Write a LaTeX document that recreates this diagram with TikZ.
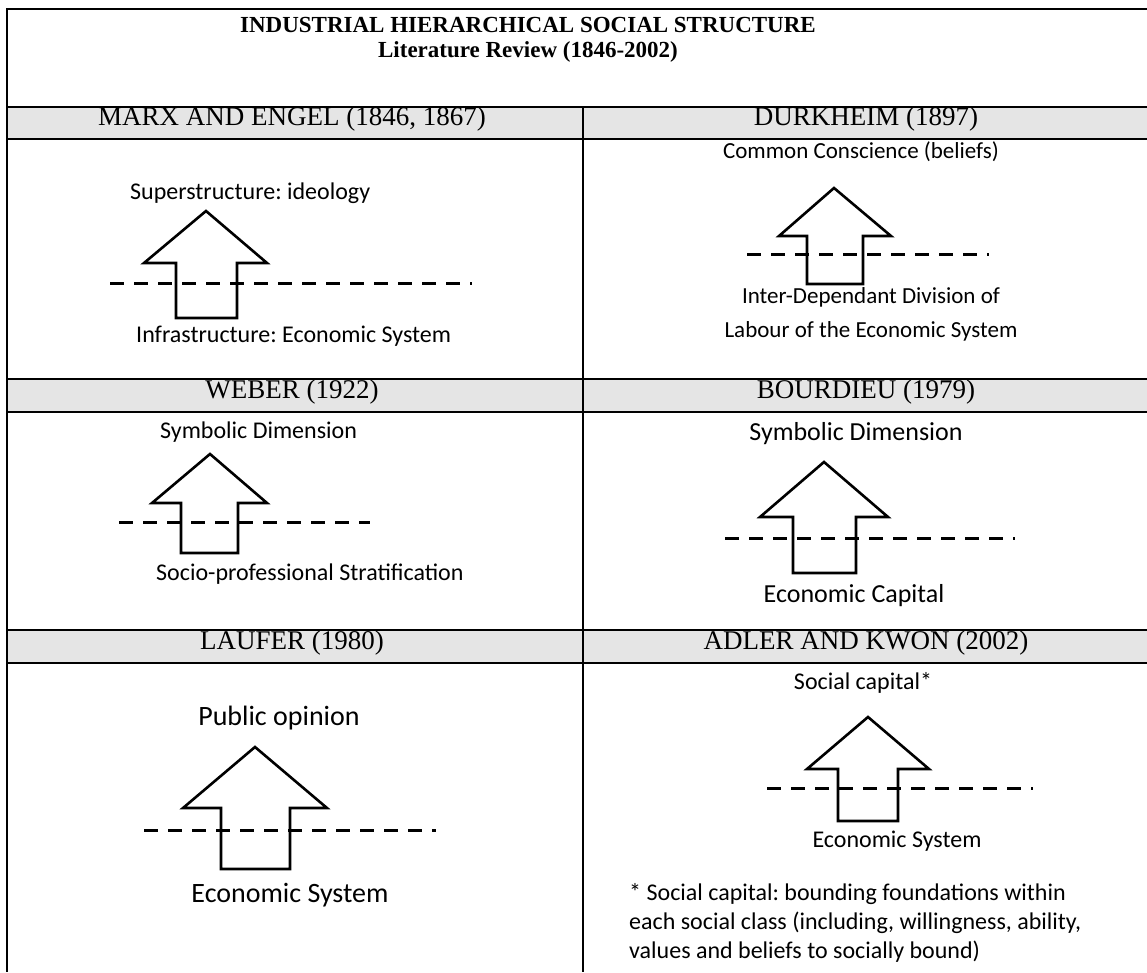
\documentclass[tikz,border=0pt]{standalone}
\usepackage{fontspec}
\setmainfont{Liberation Serif}
\newfontfamily\bodyfont{Carlito}
\frenchspacing
\tikzset{
  frame/.style={line width=2.6pt,black},
  band/.style={fill=black!10},
  hdr/.style={inner sep=0pt,anchor=mid,font=\fontsize{27}{30}\selectfont},
  lbl/.style={inner sep=0pt,anchor=mid,font=\bodyfont\fontsize{24}{29}\selectfont},
  lblw/.style={lbl,anchor=mid west},
  arrowline/.style={line width=2.6pt,miter limit=10,line join=miter},
  dashline/.style={line width=3pt,dash pattern=on 14pt off 10pt}
}
\begin{document}
\begin{tikzpicture}[x=1pt,y=-1pt]
\useasboundingbox (0,0) rectangle (1147,972);
% grey header bands
\fill[band] (7,107) rectangle (1147,139);
\fill[band] (7,379) rectangle (1147,412);
\fill[band] (7,630) rectangle (1147,663);
% frame
\draw[frame] (1147,9) -- (7,9) -- (7,972);
\draw[frame] (7,107) -- (1147,107);
\draw[frame] (7,139) -- (1147,139);
\draw[frame] (7,379) -- (1147,379);
\draw[frame] (7,412) -- (1147,412);
\draw[frame] (7,630) -- (1147,630);
\draw[frame] (7,663) -- (1147,663);
\draw[frame] (583,107) -- (583,972);
% title
\node[inner sep=0pt,anchor=mid,font=\fontsize{23}{26}\selectfont\bfseries] (t1) at (528,30) {INDUSTRIAL HIERARCHICAL SOCIAL STRUCTURE};
\node[inner sep=0pt,anchor=mid,font=\fontsize{23}{26}\selectfont\bfseries] (t2) at (528,55) {Literature Review (1846-2002)};
% headers
\node[hdr] (h1) at (292,123) {MARX AND ENGEL (1846, 1867)};
\node[hdr] (h2) at (866,123) {DURKHEIM (1897)};
\node[hdr] (h3) at (292,396) {WEBER (1922)};
\node[hdr] (h4) at (866,396) {BOURDIEU (1979)};
\node[hdr] (h5) at (292,647) {LAUFER (1980)};
\node[hdr] (h6) at (866,647) {ADLER AND KWON (2002)};
% Marx
\draw[arrowline] (206,211) -- (144,263) -- (176,263) -- (176,318) -- (237,318) -- (237,263) -- (267,263) -- cycle;
\coordinate (m1) at (110,283); \coordinate (m2) at (472,283);
\draw[dashline] (m1) -- (m2);
\node[lblw] (ma) at (130,197) {Superstructure: ideology};
\node[lblw] (mb) at (136,340) {Infrastructure: Economic System};
% Durkheim
\draw[arrowline] (834,188) -- (779,236) -- (807,236) -- (807,284) -- (863,284) -- (863,236) -- (891,236) -- cycle;
\coordinate (d1) at (747,254); \coordinate (d2) at (989,254);
\draw[dashline] (d1) -- (d2);
\node[lbl,font=\bodyfont\fontsize{23}{28}\selectfont] (da) at (861,156) {Common Conscience (beliefs)};
\node[lbl,font=\bodyfont\fontsize{23}{28}\selectfont,align=center] (db) at (871,335) {Inter-Dependant Division of\\[6pt]Labour of the Economic System};
% Weber
\draw[arrowline] (210,454) -- (152,503) -- (181,503) -- (181,553) -- (238,553) -- (238,503) -- (267,503) -- cycle;
\coordinate (w1) at (119,522); \coordinate (w2) at (370,522);
\draw[dashline] (w1) -- (w2);
\node[lblw] (wa) at (160,436) {Symbolic Dimension};
\node[lblw] (wb) at (156,578) {Socio-professional Stratification};
% Bourdieu
\draw[arrowline] (824,462) -- (760,517) -- (793,517) -- (793,573) -- (856,573) -- (856,517) -- (888,517) -- cycle;
\coordinate (b1) at (725,538); \coordinate (b2) at (1015,538);
\draw[dashline] (b1) -- (b2);
\node[lbl,font=\bodyfont\fontsize{26}{30}\selectfont] (ba) at (856,438) {Symbolic Dimension};
\node[lbl,font=\bodyfont\fontsize{26}{30}\selectfont] (bb) at (854,600) {Economic Capital};
% Laufer
\draw[arrowline] (255,747) -- (183,808) -- (221,808) -- (221,869) -- (290,869) -- (290,808) -- (327,808) -- cycle;
\coordinate (l1) at (144,830); \coordinate (l2) at (436,830);
\draw[dashline] (l1) -- (l2);
\node[lbl,font=\bodyfont\fontsize{28}{32}\selectfont] (la) at (279,723) {Public opinion};
\node[lbl,font=\bodyfont\fontsize{28}{32}\selectfont] (lb) at (290,900) {Economic System};
% Adler and Kwon
\draw[arrowline] (868,717) -- (807,769) -- (838,769) -- (838,821) -- (898,821) -- (898,769) -- (929,769) -- cycle;
\coordinate (a1) at (767,788); \coordinate (a2) at (1033,788);
\draw[dashline] (a1) -- (a2);
\node[lbl] (aa) at (863,687) {Social capital*};
\node[lbl] (ab) at (897,845) {Economic System};
\node[lbl,anchor=north west,align=left] (ac) at (629,883) {* Social capital: bounding foundations within\\each social class (including, willingness, ability,\\values and beliefs to socially bound)};
\end{tikzpicture}
\end{document}
